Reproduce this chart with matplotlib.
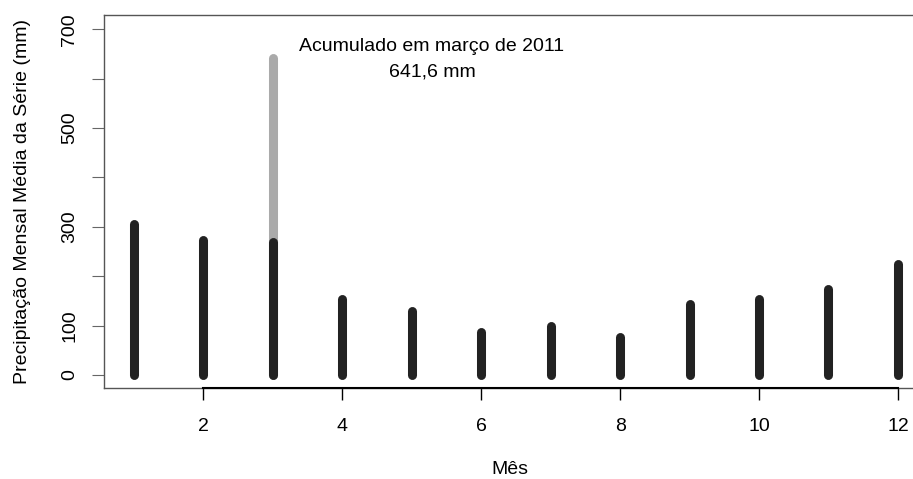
import matplotlib.pyplot as plt

plt.rcParams['font.family'] = ['Liberation Sans', 'DejaVu Sans']

# monthly mean precipitation (mm)
meses = [1, 2, 3, 4, 5, 6, 7, 8, 9, 10, 11, 12]
precip_media = [305, 274, 269, 153, 129, 88, 100, 77, 144, 153, 175, 225]
mes_destaque = 3
acumulado_2011 = 641.6

yticks = [0, 100, 200, 300, 400, 500, 600, 700]
ytick_labels = ['0', '100', '', '300', '', '500', '', '700']
xticks = [2, 4, 6, 8, 10, 12]

W, H = 913, 479
fs = 14
fig = plt.figure(figsize=(W / 100, H / 100), dpi=100)
ax = fig.add_axes([104 / W, 1 - 388 / H, (916 - 104) / W, (388 - 15) / H])

lw = 6.5
# march 2011 total in grey, behind the mean
ax.plot([mes_destaque, mes_destaque], [0, acumulado_2011], color='#aaaaaa',
        lw=lw, solid_capstyle='round', zorder=2)
for m, v in zip(meses, precip_media):
    ax.plot([m, m], [0, v], color='#222222', lw=lw, solid_capstyle='round', zorder=3)

ax.set_xlim(0.568, 12.26)
ax.set_ylim(-26.3, 728.9)

ax.text(5.29, 666, 'Acumulado em março de 2011', ha='center', va='center', fontsize=fs)
ax.text(5.29, 613, f'{acumulado_2011:.1f}'.replace('.', ',') + ' mm',
        ha='center', va='center', fontsize=fs)

ax.set_yticks(yticks)
ax.set_yticklabels(ytick_labels, rotation=90, va='center', fontsize=fs)
ax.set_xticks(xticks)
ax.set_xticklabels([str(t) for t in xticks], fontsize=fs)
ax.tick_params(axis='y', length=8.6, width=0.8, color='#666666', pad=10)
ax.tick_params(axis='x', length=8.6, width=1.0, color='black', pad=13)

for s in ['left', 'top', 'bottom']:
    ax.spines[s].set_color('#555555')
    ax.spines[s].set_linewidth(1.0)
ax.spines['right'].set_visible(False)
# R axis line between first and last tick
ax.plot([2, 12], [-26.3, -26.3], color='black', lw=1.5, clip_on=False, zorder=5)

ax.set_xlabel('Mês', fontsize=fs, labelpad=19)
ax.set_ylabel('Precipitação Mensal Média da Série (mm)', fontsize=fs, labelpad=22)

fig.savefig('out.png', dpi=100)
